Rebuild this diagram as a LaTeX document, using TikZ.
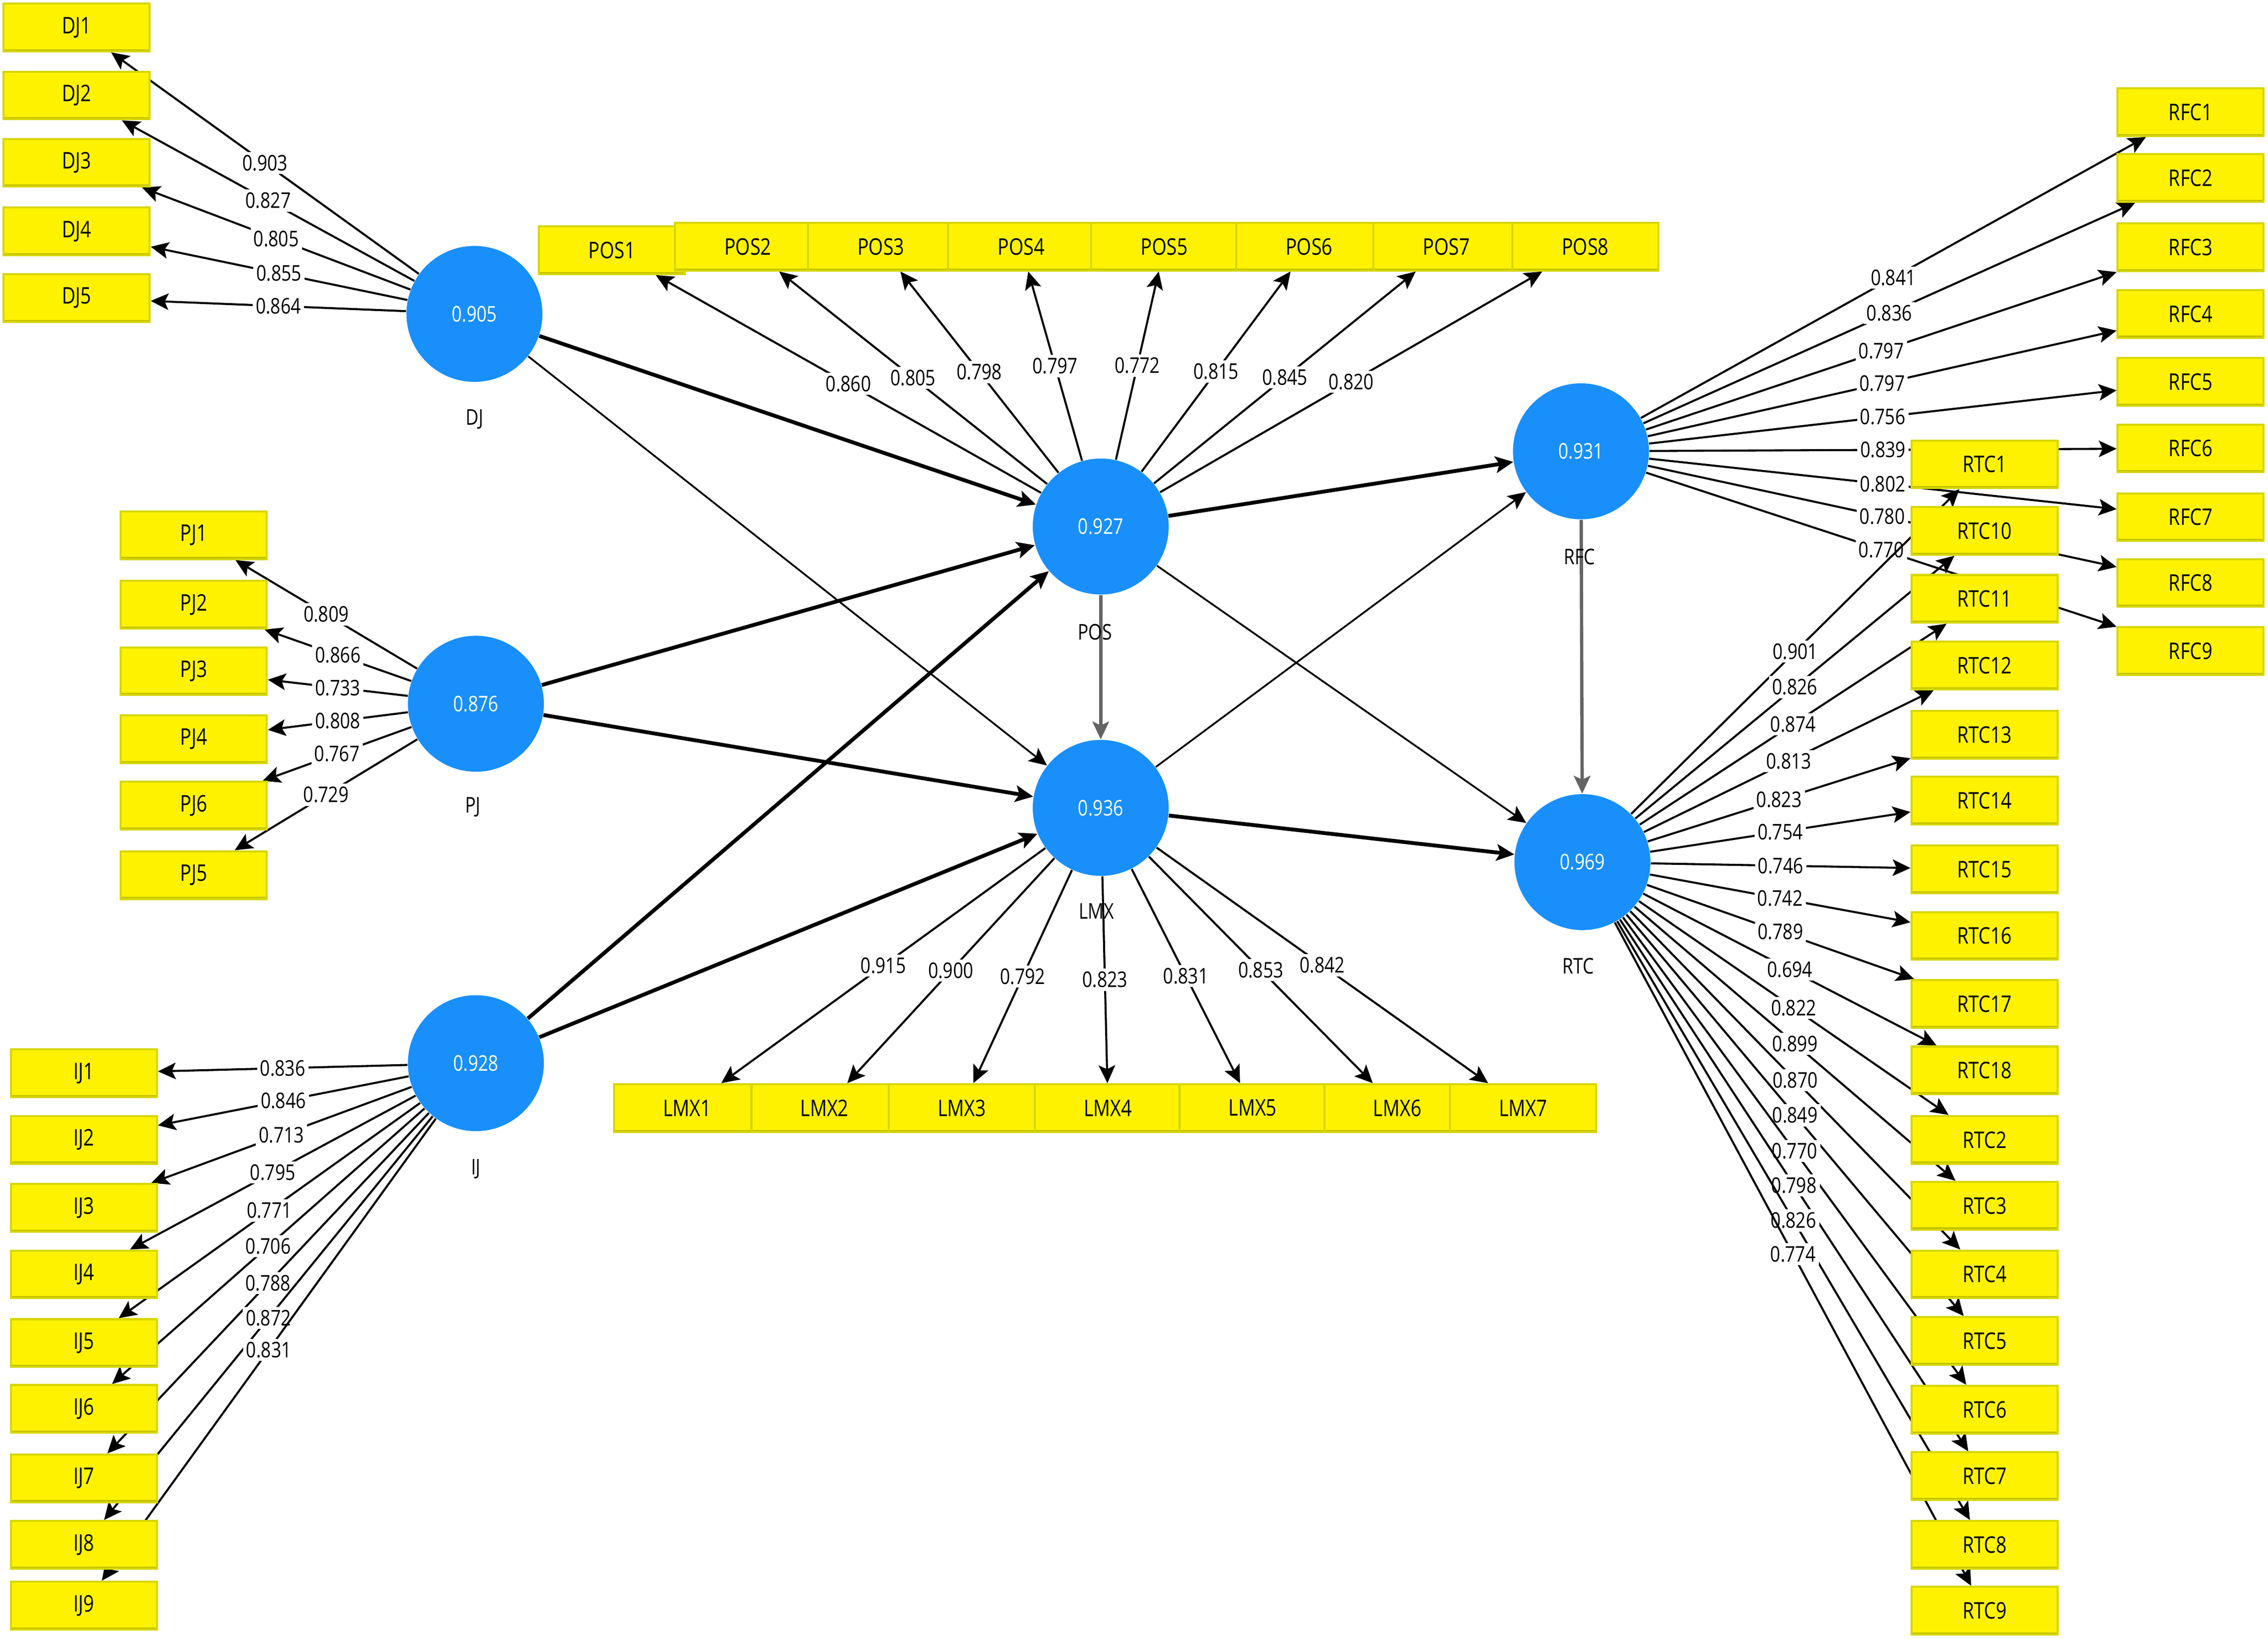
\documentclass[tikz,border=0pt]{standalone}
\usepackage{fontspec}
\setmainfont{Open Sans}[FakeStretch=0.82]
\usetikzlibrary{arrows.meta,backgrounds}

\definecolor{lvblue}{RGB}{24,143,250}
\definecolor{mvedge}{RGB}{214,214,0}
\definecolor{mvshade}{RGB}{190,190,0}
\definecolor{betagray}{RGB}{100,100,100}

\tikzset{
  lv/.style={circle, fill=lvblue, minimum size=1.88cm, inner sep=0pt, text=white, font=\fontsize{8.5}{10}\selectfont},
  lvname/.style={font=\fontsize{8.5}{10}\selectfont},
  mv/.style={rectangle, fill=yellow, draw=mvedge, line width=0.8pt, minimum width=2.02cm, minimum height=0.66cm, inner sep=0pt, font=\fontsize{9}{10}\selectfont,
    path picture={\draw[mvshade, line width=1.6pt] (path picture bounding box.south west) -- (path picture bounding box.south east);}},
  load/.style={->, line width=0.8pt},
  val/.style={fill=white, inner sep=1.2pt, font=\fontsize{8.5}{10}\selectfont},
  strong/.style={->, line width=1.5pt},
  weak/.style={->, line width=0.7pt},
  grayarr/.style={->, line width=1.3pt, draw=betagray}
}

\begin{document}
\begin{tikzpicture}[x=0.02cm, y=-0.02cm, >={Stealth[length=7pt,width=6.5pt,inset=1.5pt]}]
\useasboundingbox (0,0) rectangle (1568,1133);

% constructs
\node[lv] (DJ) at (328,217) {0.905};
\node[lv] (PJ) at (329,486.5) {0.876};
\node[lv] (IJ) at (329,735) {0.928};
\node[lv] (POS) at (761,364) {0.927};
\node[lv] (LMX) at (761,558.5) {0.936};
\node[lv] (RFC) at (1093,312) {0.931};
\node[lv] (RTC) at (1094,596) {0.969};

\node[lvname] (DJtxt) at (328,290) {DJ};
\node[lvname] (PJtxt) at (327,558) {PJ};
\node[lvname] (IJtxt) at (329,808) {IJ};
\node[lvname] (POStxt) at (757,437) {POS};
\node[lvname] (LMXtxt) at (758,630) {LMX};
\node[lvname] (RFCtxt) at (1092,385) {RFC};
\node[lvname] (RTCtxt) at (1091,668) {RTC};

% inner model
\begin{scope}[on background layer]
\draw[strong] (DJ) -- (POS);
\draw[weak] (DJ) -- (LMX);
\draw[strong] (PJ) -- (POS);
\draw[strong] (PJ) -- (LMX);
\draw[strong] (IJ) -- (POS);
\draw[strong] (IJ) -- (LMX);
\draw[strong] (POS) -- (RFC);
\draw[grayarr] (POS) -- (LMX);
\draw[weak] (POS) -- (RTC);
\draw[weak] (LMX) -- (RFC);
\draw[strong] (LMX) -- (RTC);
\draw[grayarr] (RFC) -- (RTC);
\end{scope}

% indicators
\foreach \n/\y/\v in {DJ1/19/0.903, DJ2/66/0.827, DJ3/112.5/0.805, DJ4/160/0.855, DJ5/206/0.864}{
  \node[mv] (\n) at (53,\y) {\n};
  \begin{scope}[on background layer]
    \draw[load] (DJ) -- node[val]{\v} (\n);
  \end{scope}
}

\foreach \n/\y/\v in {PJ1/370/0.809, PJ2/418/0.866, PJ3/464/0.733, PJ4/511/0.808, PJ6/557/0.767, PJ5/605/0.729}{
  \node[mv] (\n) at (134,\y) {\n};
  \begin{scope}[on background layer]
    \draw[load] (PJ) -- node[val]{\v} (\n);
  \end{scope}
}

\foreach \n/\y/\v in {IJ1/742/0.836, IJ2/788/0.846, IJ3/835/0.713, IJ4/881/0.795, IJ5/928.5/0.771, IJ6/974/0.706, IJ7/1022/0.788, IJ8/1068/0.872, IJ9/1110/0.831}{
  \node[mv] (\n) at (58,\y) {\n};
  \begin{scope}[on background layer]
    \draw[load] (IJ) -- node[val]{\v} (\n);
  \end{scope}
}

\foreach \n/\x/\y/\v in {POS1/423/173/0.860, POS2/517/170.5/0.805, POS3/609/170.5/0.798, POS4/706/170.5/0.797, POS5/805/170.5/0.772, POS6/905/170.5/0.815, POS7/1000/170.5/0.845, POS8/1096/170.5/0.820}{
  \node[mv] (\n) at (\x,\y) {\n};
  \begin{scope}[on background layer]
    \draw[load] (POS) -- node[val]{\v} (\n);
  \end{scope}
}

\foreach \n/\x/\v in {LMX1/475/0.915, LMX2/570/0.900, LMX3/665/0.792, LMX4/766/0.823, LMX5/866/0.831, LMX6/966/0.853, LMX7/1053/0.842}{
  \node[mv] (\n) at (\x,766) {\n};
  \begin{scope}[on background layer]
    \draw[load] (LMX) -- node[val]{\v} (\n);
  \end{scope}
}

\foreach \n/\y/\v in {RFC1/77.5/0.841, RFC2/123/0.836, RFC3/171/0.797, RFC4/217/0.797, RFC5/264/0.756, RFC6/310/0.839, RFC7/357.5/0.802, RFC8/403/0.780, RFC9/450/0.770}{
  \node[mv] (\n) at (1514.5,\y) {\n};
  \begin{scope}[on background layer]
    \draw[load] (RFC) -- node[val]{\v} (\n);
  \end{scope}
}

\foreach \n/\y/\v in {RTC1/321/0.901, RTC10/367/0.826, RTC11/414/0.874, RTC12/460/0.813, RTC13/508/0.823, RTC14/553.5/0.754, RTC15/601/0.746, RTC16/647/0.742, RTC17/694/0.789, RTC18/740/0.694, RTC2/788/0.822, RTC3/833.5/0.899, RTC4/881/0.870, RTC5/927/0.849, RTC6/974.5/0.770, RTC7/1020.5/0.798, RTC8/1068/0.826, RTC9/1113.5/0.774}{
  \node[mv] (\n) at (1372,\y) {\n};
  \begin{scope}[on background layer]
    \draw[load] (RTC) -- node[val]{\v} (\n);
  \end{scope}
}
\end{tikzpicture}
\end{document}
